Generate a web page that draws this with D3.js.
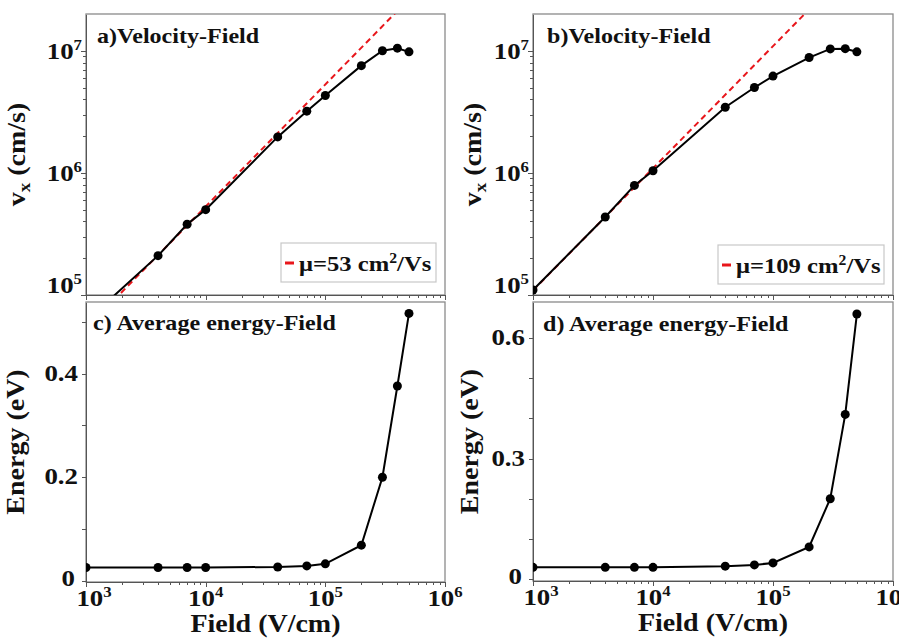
<!DOCTYPE html>
<html>
<head>
  <meta charset="utf-8">
  <title>Velocity and energy vs field</title>
  <script src="https://cdn.jsdelivr.net/npm/d3@7"></script>
  <style>
    body { margin: 0; background: #fff; }
    svg { display: block; }
    .axis path, .axis line { stroke: #555; shape-rendering: crispEdges; }
  </style>
</head>
<body>
<script>
  // values
  const fields = [1e3, 4e3, 7e3, 1e4, 4e4, 7e4, 1e5, 2e5, 3e5, 4e5, 5e5];
  const velocityA = [6.1e4, 2.1e5, 3.8e5, 5.0e5, 1.97e6, 3.2e6, 4.3e6, 7.55e6, 1.0e7, 1.05e7, 9.8e6];
  const velocityB = [1.1e5, 4.35e5, 7.9e5, 1.04e6, 3.45e6, 5.0e6, 6.2e6, 8.8e6, 1.035e7, 1.04e7, 9.8e6];
  const energyC = [0.026, 0.026, 0.026, 0.026, 0.027, 0.029, 0.033, 0.069, 0.200, 0.376, 0.516];
  const energyD = [0.029, 0.029, 0.029, 0.029, 0.032, 0.035, 0.040, 0.080, 0.200, 0.410, 0.660];
  const mobilities = [53, 109];
  const fieldTicks = [1e3, 1e4, 1e5, 1e6];
  const velocityTicks = [1e5, 1e6, 1e7];
  const energyTicksC = [0, 0.2, 0.4];
  const energyTicksD = [0, 0.3, 0.6];

  const W = 899, H = 638;
  const FONT = '"Liberation Serif", "Times New Roman", serif';
  const svg = d3.select('body').append('svg').attr('width', W).attr('height', H)
    .style('font-family', FONT).style('font-weight', 'bold');

  function logMinors(lo, hi) {
    const out = [];
    for (let e = Math.floor(Math.log10(lo)); e <= Math.ceil(Math.log10(hi)); e++) {
      for (let m = 2; m <= 9; m++) {
        const v = m * Math.pow(10, e);
        if (v > lo && v < hi) out.push(v);
      }
    }
    return out;
  }

  // Times-like bold text, stretched a little wider like the original figure
  function txt(parent, x, y, size, anchor) {
    return parent.append('text')
      .attr('transform', `translate(${x},${y}) scale(1.12,1)`)
      .attr('text-anchor', anchor || 'start')
      .style('font-family', FONT).style('font-weight', 'bold')
      .style('font-size', size + 'px').attr('fill', '#111');
  }

  function powLabel(parent, x, y, v, anchor) {
    const e = Math.round(Math.log10(v));
    const t = txt(parent, x, y, 24, anchor);
    t.append('tspan').text('10');
    t.append('tspan').attr('dy', -9).style('font-size', '15px').text(e);
    return t;
  }

  function panel(o) {
    const g = svg.append('g').attr('transform', `translate(${o.x},${o.y})`);
    const w = o.w, h = o.h;
    const x = d3.scaleLog().domain([1e3, 1e6]).range([0, w]);
    const y = o.log ? d3.scaleLog().domain(o.yDomain).range([h, 0])
                    : d3.scaleLinear().domain(o.yDomain).range([h, 0]);

    const clipId = 'clip' + o.name;
    g.append('clipPath').attr('id', clipId).append('rect').attr('width', w).attr('height', h);

    g.append('rect').attr('width', w).attr('height', h)
      .attr('fill', 'none').attr('stroke', '#8a8a8a').attr('stroke-width', 1.3);

    // x axis
    g.append('g').attr('class', 'axis').attr('transform', `translate(0,${h})`)
      .call(d3.axisBottom(x).tickValues(logMinors(1e3, 1e6)).tickSize(3).tickFormat(''))
      .select('.domain').remove();
    g.append('g').attr('class', 'axis').attr('transform', `translate(0,${h})`)
      .call(d3.axisBottom(x).tickValues(fieldTicks).tickSize(5).tickSizeOuter(0).tickFormat(''));

    if (o.xLabels) {
      fieldTicks.forEach((v, i) => {
        powLabel(g, x(v) + (i === 0 ? 8 : 0), h + 24, v, 'middle');
      });
      txt(g, w / 2, h + 50, 25, 'middle').text('Field (V/cm)');
    }

    // y axis
    if (o.log) {
      g.append('g').attr('class', 'axis')
        .call(d3.axisLeft(y).tickValues(logMinors(o.yDomain[0], o.yDomain[1])).tickSize(3).tickFormat(''))
        .select('.domain').remove();
      g.append('g').attr('class', 'axis')
        .call(d3.axisLeft(y).tickValues(velocityTicks).tickSize(5).tickSizeOuter(0).tickFormat(''));
      velocityTicks.forEach((v, i) => {
        powLabel(g, -4, y(v) + (i === 0 ? -2 : 8), v, 'end');
      });
    } else {
      g.append('g').attr('class', 'axis')
        .call(d3.axisLeft(y).tickValues(d3.range(0, o.yDomain[1], 0.1)).tickSize(4).tickSizeOuter(0).tickFormat(''));
      o.yTicks.forEach(v => {
        if (v === 0) txt(g, -11, y(v) + 5, 24, 'end').text('0');
        else txt(g, -8, y(v) + 7, 24, 'end').text(d3.format('.1f')(v));
      });
    }

    // y title
    const yt = g.append('text')
      .attr('transform', `translate(${o.titleX},${h / 2}) rotate(-90) scale(1.12,1)`)
      .attr('text-anchor', 'middle').style('font-size', '25px').attr('fill', '#111');
    if (o.log) {
      yt.append('tspan').text('v');
      yt.append('tspan').attr('dy', 5).style('font-size', '17px').text('x');
      yt.append('tspan').attr('dy', -5).text(' (cm/s)');
    } else {
      yt.text('Energy (eV)');
    }

    const plot = g.append('g').attr('clip-path', `url(#${clipId})`);

    if (o.mu) {
      plot.append('path')
        .attr('d', d3.line()([[x(1e3), y(o.mu * 1e3)], [x(1e6), y(o.mu * 1e6)]]))
        .attr('stroke', '#e8161b').attr('stroke-width', 2).attr('stroke-dasharray', '6,4').attr('fill', 'none');
    }

    const pts = fields.map((f, i) => [f, o.values[i]]);
    plot.append('path')
      .attr('d', d3.line().x(d => x(d[0])).y(d => y(d[1]))(pts))
      .attr('stroke', '#000').attr('stroke-width', 2).attr('fill', 'none');
    plot.selectAll('circle').data(pts).join('circle')
      .attr('cx', d => x(d[0])).attr('cy', d => y(d[1])).attr('r', 4.5).attr('fill', '#000');

    // panel title
    txt(g, o.tx, o.ty, 21.5).text(o.title);

    // legend
    if (o.mu) {
      const lg = g.append('g').attr('transform', `translate(${o.legX},${o.legY})`);
      lg.append('rect').attr('width', o.legW).attr('height', 39)
        .attr('fill', '#fff').attr('stroke', '#c8c8c8').attr('stroke-width', 1.2);
      lg.append('line').attr('x1', 4).attr('x2', 13).attr('y1', 20).attr('y2', 20)
        .attr('stroke', '#e8161b').attr('stroke-width', 3);
      const t = txt(lg, 18, 28, 22);
      t.append('tspan').text('\u03bc=' + o.mu + ' cm');
      t.append('tspan').attr('dy', -8).style('font-size', '14px').text('2');
      t.append('tspan').attr('dy', 8).text('/Vs');
    }
  }

  panel({ name: 'a', x: 86, y: 14, w: 359, h: 281, log: true, yDomain: [1e5, 2e7],
    values: velocityA, mu: mobilities[0], title: 'a)Velocity-Field', tx: 11, ty: 29,
    titleX: -61, legX: 195, legY: 229, legW: 155, xLabels: false });
  panel({ name: 'b', x: 533, y: 14, w: 360, h: 281, log: true, yDomain: [1e5, 2e7],
    values: velocityB, mu: mobilities[1], title: 'b)Velocity-Field', tx: 14, ty: 29,
    titleX: -52, legX: 185, legY: 231, legW: 166, xLabels: false });
  panel({ name: 'c', x: 86, y: 302, w: 359, h: 280, log: false, yDomain: [-0.002, 0.538],
    yTicks: energyTicksC, values: energyC, title: 'c) Average energy-Field', tx: 7, ty: 28,
    titleX: -62, xLabels: true });
  panel({ name: 'd', x: 533, y: 302, w: 360, h: 279, log: false, yDomain: [-0.005, 0.69],
    yTicks: energyTicksD, values: energyD, title: 'd) Average energy-Field', tx: 10, ty: 29,
    titleX: -55, xLabels: true });
</script>
</body>
</html>
